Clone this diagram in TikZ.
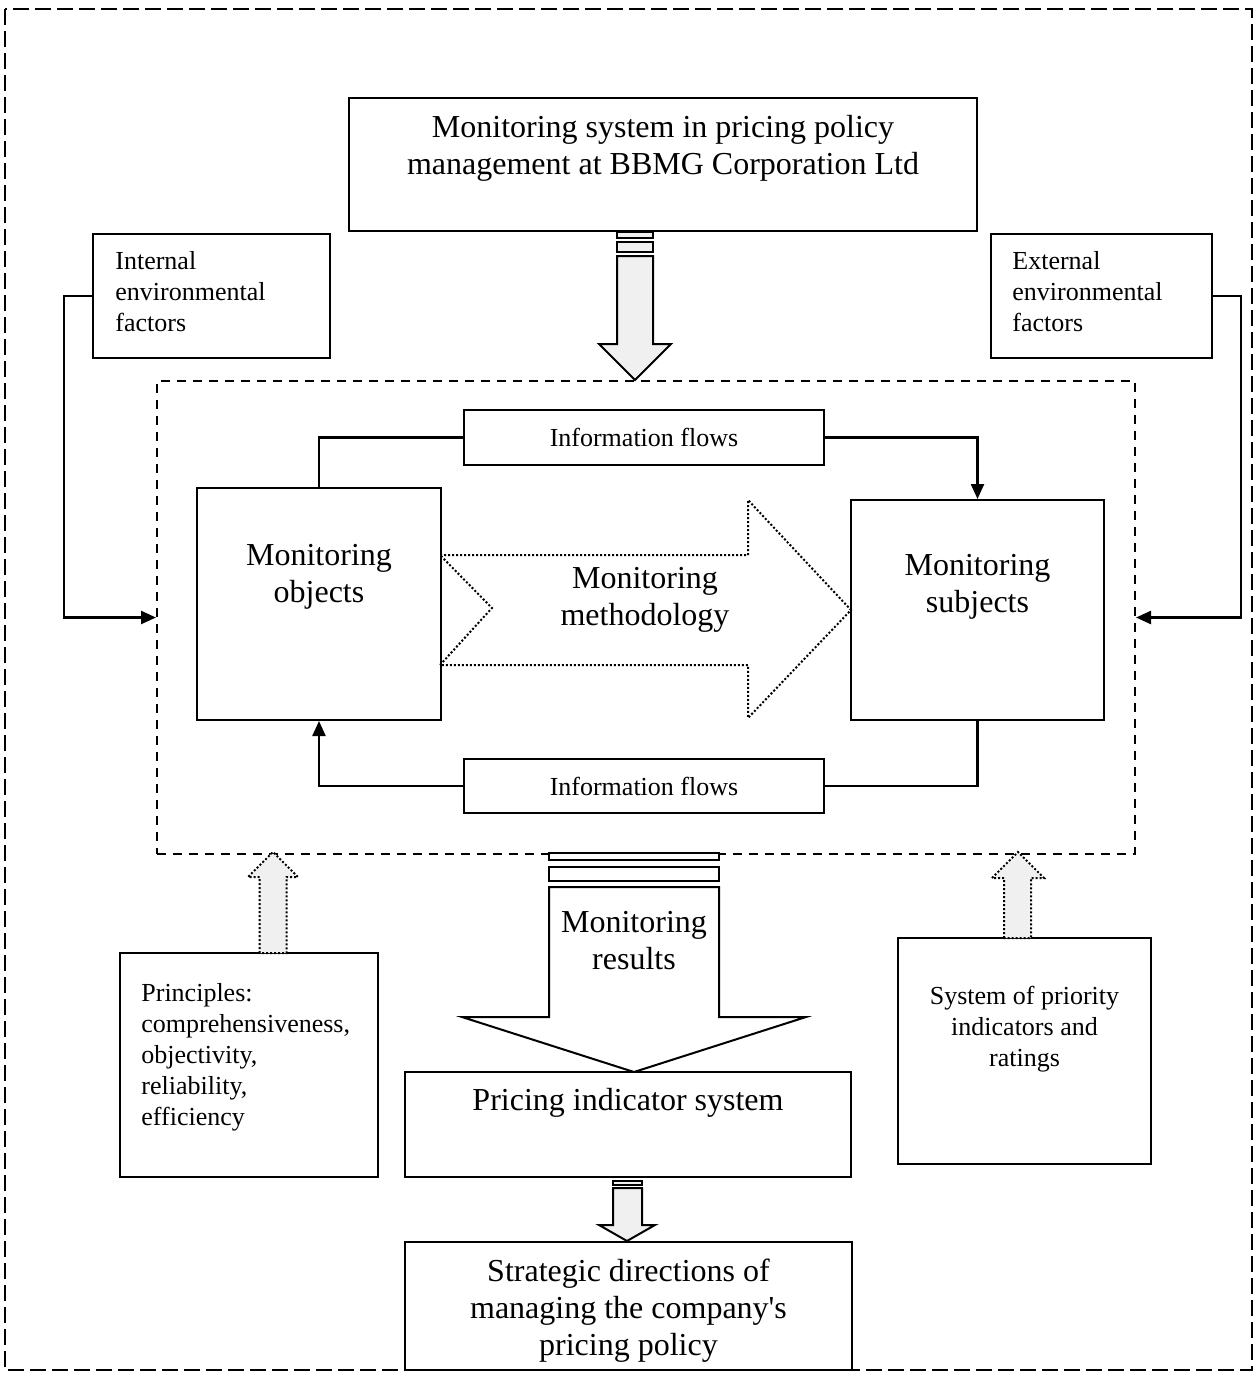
\documentclass[tikz,border=0pt]{standalone}
\usepackage{fontspec}
\setmainfont{Liberation Serif}[Ligatures=TeXOff]
\usetikzlibrary{arrows.meta}
\definecolor{arrowfill}{HTML}{F0F0F0}
\begin{document}
\begin{tikzpicture}[x=0.5pt,y=-0.5pt,
  box/.style={draw, line width=1pt, fill=white, inner sep=0pt},
  big/.style={font=\fontsize{16}{18.5}\selectfont, align=center, inner sep=0pt},
  small/.style={font=\fontsize{13}{15.5}\selectfont, inner sep=0pt},
  link/.style={line width=1.2pt},
  tip/.style={-{Triangle[length=7.5pt,width=6.5pt]}},
  graybar/.style={draw, line width=1pt, fill=arrowfill, line join=miter},
  whitebar/.style={draw, line width=1pt, fill=white, line join=miter},
  dotarrow/.style={draw, line width=1pt, dash pattern=on 1pt off 1pt, line join=miter},
]
% canvas and outer frame
\useasboundingbox (0,0) rectangle (1255,1382);
\draw[line width=1pt, dash pattern=on 8pt off 3pt] (5,9) rectangle (1252,1370);

% inner frame
\node[draw, line width=1pt, dash pattern=on 4.5pt off 3.5pt, minimum width=489pt, minimum height=236.5pt, inner sep=0pt] (inner) at (646,617.5) {};

% top title box
\node[box, minimum width=314pt, minimum height=66.5pt] (title) at (663,164.5) {};
\node[big] (titletext) at (663,148) {Monitoring system in pricing policy\\management at BBMG Corporation Ltd};

% environmental factors
\node[box, minimum width=118.5pt, minimum height=62pt] (internal) at (211.5,296) {};
\node[small, anchor=west, align=left] (internaltext) at (115,292) {Internal\\environmental\\factors};
\node[box, minimum width=110.5pt, minimum height=62pt] (external) at (1101.5,296) {};
\node[small, anchor=west, align=left] (externaltext) at (1012,292) {External\\environmental\\factors};

% arrow from the title box into the inner frame
\draw[graybar] (617,232) rectangle (653,238);
\draw[graybar] (617,242) rectangle (653,252);
\draw[graybar] (617,256) -- (617,344) -- (599,344) -- (635,380) -- (671,344) -- (653,344) -- (653,256) -- cycle;

% information flow boxes
\node[box, small, minimum width=180pt, minimum height=27.5pt] (infotop) at (644,437.5) {Information flows};
\node[box, small, minimum width=180pt, minimum height=27pt] (infobot) at (644,786) {Information flows};

% objects and subjects
\node[box, minimum width=122pt, minimum height=116pt] (objects) at (319,604) {};
\node[big] (objectstext) at (319,577) {Monitoring\\objects};
\node[box, minimum width=126.5pt, minimum height=110pt] (subjects) at (977.5,610) {};
\node[big] (subjectstext) at (977.5,587) {Monitoring\\subjects};

% methodology arrow
\draw[dotarrow] (440,555) -- (748,555) -- (748,500) -- (851,610) -- (748,718) -- (748,665) -- (440,665) -- (492,608) -- cycle;
\node[big] (method) at (645,600) {Monitoring\\methodology};

% information flow connectors
\draw[link] (objects.north) |- (infotop.west);
\draw[link, tip] (infotop.east) -| (subjects.north);
\draw[link] (subjects.south) |- (infobot.east);
\draw[link, tip] (infobot.west) -| (objects.south);

% environmental connectors
\draw[link, tip] (internal.west) -- ++(-28,0) |- (inner.west);
\draw[link, tip] (external.east) -- ++(28,0) |- (inner.east);

% monitoring results arrow
\draw[whitebar] (549,853) rectangle (719,860);
\draw[whitebar] (549,867) rectangle (719,881);
\draw[whitebar] (549,887) -- (549,1017) -- (462,1017) -- (634,1072) -- (806,1017) -- (719,1017) -- (719,887) -- cycle;
\node[big] (results) at (634,941) {Monitoring\\results};

% pricing indicator system
\node[box, minimum width=223pt, minimum height=52.5pt] (pricing) at (628,1124.5) {};
\node[big] (pricingtext) at (628,1103) {Pricing indicator system};

% principles and ratings
\node[box, minimum width=129pt, minimum height=112pt] (principles) at (249,1065) {};
\node[small, anchor=west, align=left] (principlestext) at (141,1057) {Principles:\\comprehensiveness,\\objectivity,\\reliability,\\efficiency};
\node[box, minimum width=126.5pt, minimum height=113pt] (priority) at (1024.5,1051) {};
\node[small, align=center] (prioritytext) at (1024.5,1029) {System of priority\\indicators and\\ratings};

% dotted up arrows into the inner frame
\draw[dotarrow, fill=arrowfill] (259.5,953) -- (259.5,877) -- (248,877) -- (273,852) -- (298,877) -- (286.5,877) -- (286.5,953) -- cycle;
\draw[dotarrow, fill=arrowfill] (1004,938) -- (1004,878) -- (992,878) -- (1018,852) -- (1044,878) -- (1031,878) -- (1031,938) -- cycle;

% arrow to strategic directions
\draw[graybar] (613,1181) rectangle (642,1185);
\draw[graybar] (613,1188) -- (613,1225) -- (599,1225) -- (627,1241) -- (655,1225) -- (642,1225) -- (642,1188) -- cycle;

% strategic directions
\node[box, minimum width=223.5pt, minimum height=64pt] (strategic) at (628.5,1306) {};
\node[big] (strategictext) at (628.5,1311) {Strategic directions of\\managing the company's\\pricing policy};
\end{tikzpicture}
\end{document}
